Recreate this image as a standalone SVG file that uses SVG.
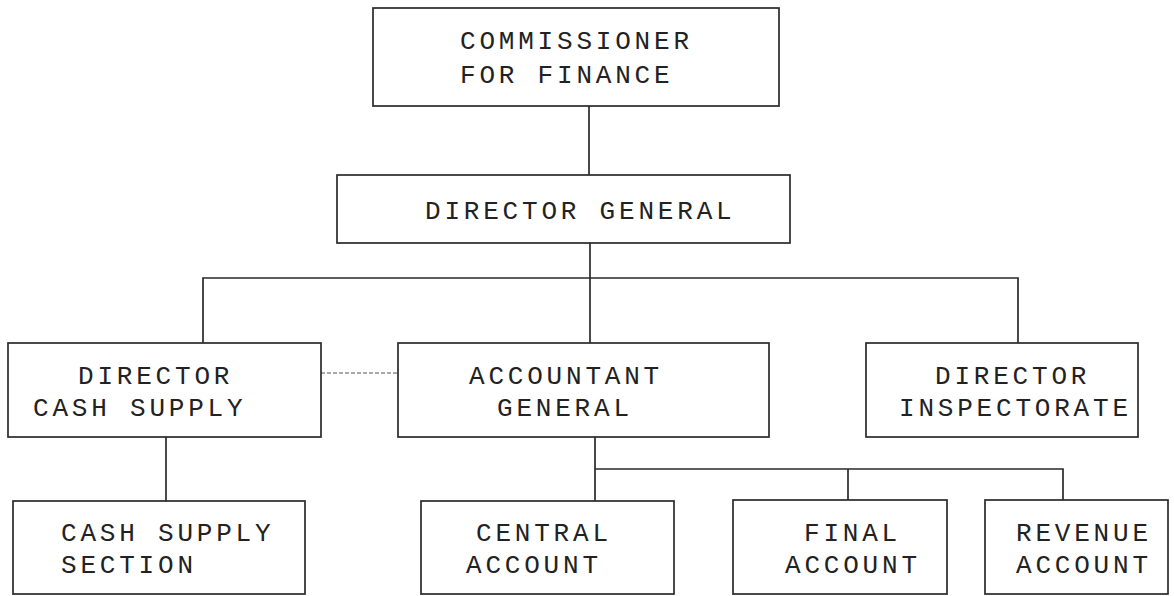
<svg xmlns="http://www.w3.org/2000/svg" width="1174" height="596" viewBox="0 0 1174 596">
<style>
.box{fill:#ffffff;stroke:#2a2a2a;stroke-width:1.7}
.ln{fill:none;stroke:#2a2a2a;stroke-width:1.7}
.dash{fill:none;stroke:#555;stroke-width:1.2;stroke-dasharray:4 2}
text{font-family:"Liberation Mono","DejaVu Sans Mono",monospace;font-size:26px;letter-spacing:3.8px;fill:#222}
</style>
<rect width="1174" height="596" fill="#ffffff"/>
<g id="connectors">
<path class="ln" d="M589,106 V175"/>
<path class="ln" d="M590,243 V343"/>
<path class="ln" d="M203,343 V278 H1018 V343"/>
<path class="dash" d="M321,373 H398"/>
<path class="ln" d="M166,437 V501"/>
<path class="ln" d="M595,437 V501"/>
<path class="ln" d="M595,469 H1063 V500 M848,469 V500"/>
</g>
<g id="commissioner">
<rect class="box" x="373" y="8" width="406" height="98"/>
<text x="460" y="49">COMMISSIONER</text>
<text x="460" y="83">FOR FINANCE</text>
</g>
<g id="director-general">
<rect class="box" x="337" y="175" width="453" height="68"/>
<text x="425" y="219">DIRECTOR GENERAL</text>
</g>
<g id="director-cash-supply">
<rect class="box" x="8" y="343" width="313" height="94"/>
<text x="78" y="384">DIRECTOR</text>
<text x="33" y="416">CASH SUPPLY</text>
</g>
<g id="accountant-general">
<rect class="box" x="398" y="343" width="371" height="94"/>
<text x="469" y="384">ACCOUNTANT</text>
<text x="497" y="416">GENERAL</text>
</g>
<g id="director-inspectorate">
<rect class="box" x="866" y="343" width="272" height="94"/>
<text x="935" y="384">DIRECTOR</text>
<text x="899" y="416">INSPECTORATE</text>
</g>
<g id="cash-supply-section">
<rect class="box" x="13" y="501" width="292" height="93"/>
<text x="61" y="541">CASH SUPPLY</text>
<text x="61" y="573">SECTION</text>
</g>
<g id="central-account">
<rect class="box" x="421" y="501" width="253" height="93"/>
<text x="476" y="541">CENTRAL</text>
<text x="466" y="573">ACCOUNT</text>
</g>
<g id="final-account">
<rect class="box" x="733" y="500" width="214" height="94"/>
<text x="804" y="541">FINAL</text>
<text x="785" y="573">ACCOUNT</text>
</g>
<g id="revenue-account">
<rect class="box" x="985" y="500" width="183" height="94"/>
<text x="1016" y="541">REVENUE</text>
<text x="1016" y="573">ACCOUNT</text>
</g>
</svg>
